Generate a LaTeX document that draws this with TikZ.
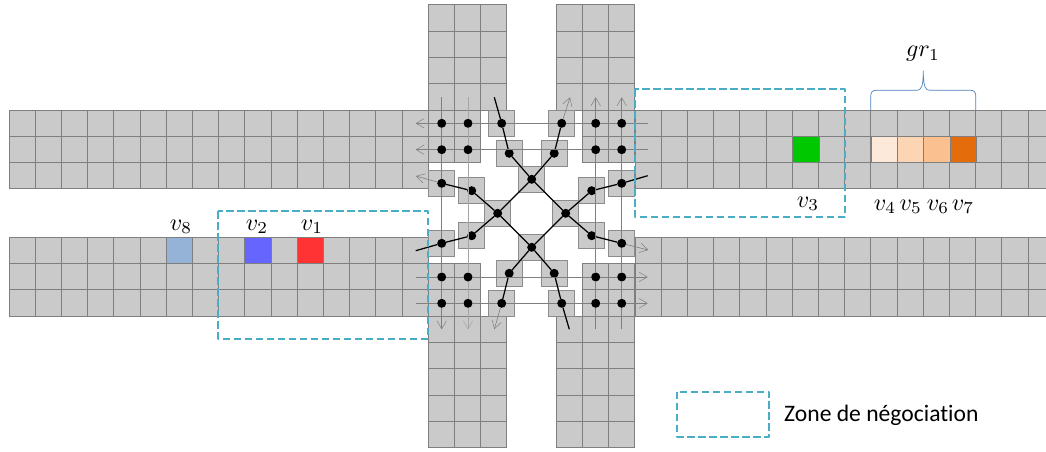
\documentclass[tikz,border=0pt]{standalone}
\usepackage{fontspec}
\setmainfont[Ligatures=NoCommon]{Carlito}
\usetikzlibrary{arrows.meta}
\definecolor{cellfill}{HTML}{CACACA}
\definecolor{cellline}{HTML}{7F7F7F}
\definecolor{zonecol}{HTML}{4BACC6}
\definecolor{bracecol}{HTML}{4F81BD}
\tikzset{
  x=1pt,y=-1pt,
  cellbox/.style={rectangle,draw=cellline!90,fill=cellfill,line width=1pt,minimum width=26.2pt,minimum height=26.3pt,inner sep=0pt,outer sep=0pt},
  gridline/.style={draw=cellline,line width=1pt},
  dotmark/.style={circle,fill=black,minimum size=9pt,inner sep=0pt,outer sep=0pt},
  lane/.style={draw=cellline,line width=.6pt},
  gohead/.style={-{Straight Barb[length=8pt,width=9.5pt,line width=.5pt]}},
  route/.style={draw=black,line width=1.25pt},
  zone/.style={draw=zonecol,line width=2pt,dash pattern=on 7.5pt off 3.5pt,line join=round},
  tag/.style={inner sep=0pt,scale=2.4},
}
% #1,#2 top-left corner, #3 columns, #4 rows: filled once, each rule drawn once
\newcommand{\gridblock}[4]{%
  \fill[cellfill] (#1,#2) rectangle ++({#3*26.2},{#4*26.3});
  \foreach \cc in {0,...,#3}{\draw[gridline] ({#1+\cc*26.2},#2) -- ++(0,{#4*26.3});}
  \foreach \rr in {0,...,#4}{\draw[gridline] (#1,{#2+\rr*26.3}) -- ++({#3*26.2},0);}}
\newcommand{\paintcell}[3]{\draw[gridline,fill=#3] (#1,#2) rectangle ++(26.2,26.3);}
\begin{document}
\begin{tikzpicture}
\useasboundingbox (0,0) rectangle (1046,452);
\begin{scope}
\clip (0,0) rectangle (1046,452);
\gridblock{9}{110}{16}{3}
\gridblock{428.2}{110}{2}{2}
\gridblock{428.2}{4.8}{3}{4}
\gridblock{556}{4.8}{3}{4}
\gridblock{582.2}{110}{2}{2}
\gridblock{635}{110}{16}{3}
\gridblock{9}{237.3}{16}{3}
\gridblock{428.2}{263.6}{2}{2}
\gridblock{428.2}{316.2}{3}{5}
\gridblock{556}{316.2}{3}{5}
\gridblock{582.2}{263.6}{2}{2}
\gridblock{635}{237.3}{16}{3}
\end{scope}
% coloured vehicles
\definecolor{vthree}{HTML}{00C800}
\definecolor{vfour}{HTML}{FDE9D9}
\definecolor{vfive}{HTML}{FCD5B5}
\definecolor{vsix}{HTML}{FAC090}
\definecolor{vseven}{HTML}{E46C0A}
\definecolor{veight}{HTML}{95B3D7}
\definecolor{vtwo}{HTML}{6666FF}
\definecolor{vone}{HTML}{FF3333}
\paintcell{792.8}{136.3}{vthree}
\paintcell{871.4}{136.3}{vfour}
\paintcell{897.6}{136.3}{vfive}
\paintcell{923.8}{136.3}{vsix}
\paintcell{950}{136.3}{vseven}
\paintcell{166.2}{237.3}{veight}
\paintcell{244.8}{237.3}{vtwo}
\paintcell{297.2}{237.3}{vone}
% conflict cells
\foreach \nm/\px/\py in {a1/501.7/123.3,a2/509.2/153.3,a3/441.7/183.3,a4/471.7/190.7,
  b1/561.7/123.3,b2/554.2/153.3,b3/621.7/183.3,b4/591.7/190.7,
  c1/441.7/243.3,c2/471.7/235.7,c3/509.2/273.3,c4/501.7/303.3,
  d1/621.7/243.3,d2/591.7/235.7,d3/554.2/273.3,d4/561.7/303.3,
  pn/531.7/179.3,ps/531.7/247.3,pw/497.7/213.3,pe/565.7/213.3}{
  \node[cellbox] (\nm) at (\px,\py) {};
  \node[dotmark] (\nm d) at (\px,\py) {};
}
% dots of the four corner squares
\foreach \xn/\xv in {A/441.7,B/468,C/595.7,D/621.7}{
  \foreach \yn/\yv in {E/123.3,F/149.7,G/277,H/303.3}{
    \node[dotmark] (g\xn\yn) at (\xv,\yv) {};
  }
}
% free ends
\foreach \nm/\px/\py in {lEl/415.7/123.3,lEr/647.7/123.3,lFl/415.7/149.7,lFr/647.7/149.7,
  lGl/415.7/277,lGr/647.7/277,lHl/415.7/303.3,lHr/647.7/303.3,
  tA/441.7/97.3,tB/468/97.3,tC/595.7/97.3,tD/621.7/97.3,
  uA/441.7/329.3,uB/468/329.3,uC/595.7/329.3,uD/621.7/329.3,
  ra/494.3/97.3,rb/415.7/250.7,rc/647.7/175.7,rd/569.3/329.3,
  ea/648.3/250,eb/570/97.3,ec/494.3/329.3,ed/416/176}{
  \coordinate (\nm) at (\px,\py);
}
% lanes
\draw[lane,gohead] (lEr) -- (gDE) -- (gCE) -- (b1d) -- (a1d) -- (gBE) -- (gAE) -- (lEl);
\draw[lane,gohead] (lFr) -- (gDF) -- (gCF) -- (gBF) -- (gAF) -- (lFl);
\draw[lane,gohead] (lGl) -- (gAG) -- (gBG) -- (gCG) -- (gDG) -- (lGr);
\draw[lane,gohead] (lHl) -- (gAH) -- (gBH) -- (c4d) -- (d4d) -- (gCH) -- (gDH) -- (lHr);
\draw[lane,gohead] (tA) -- (gAE) -- (gAF) -- (a3d) -- (c1d) -- (gAG) -- (gAH) -- (uA);
\draw[lane,draw=cellline!70,gohead] (tB) -- (gBE) -- (gBF) -- (gBG) -- (gBH) -- (uB);
\draw[lane,gohead] (uC) -- (gCH) -- (gCG) -- (gCF) -- (gCE) -- (tC);
\draw[lane,gohead] (uD) -- (gDH) -- (gDG) -- (d1d) -- (b3d) -- (gDF) -- (gDE) -- (tD);
% routes
\draw[lane,gohead] (d1d) -- (ea);
\draw[lane,gohead] (b1d) -- (eb);
\draw[lane,gohead] (c4d) -- (ec);
\draw[lane,gohead] (a3d) -- (ed);
\draw[route] (ra) -- (a1d) -- (a2d) -- (pnd) -- (ped) -- (d2d) -- (d1d);
\draw[route] (rb) -- (c1d) -- (c2d) -- (pwd) -- (pnd) -- (b2d) -- (b1d);
\draw[route] (rc) -- (b3d) -- (b4d) -- (ped) -- (psd) -- (c3d) -- (c4d);
\draw[route] (rd) -- (d4d) -- (d3d) -- (psd) -- (pwd) -- (a4d) -- (a3d);
% negotiation zones
\draw[zone] (218.3,211) rectangle (428.3,338.7);
\draw[zone] (635,89.3) rectangle (845,216.7);
\draw[zone] (677.3,391.7) rectangle (769.3,436.7);
% brace
\draw[bracecol,line width=.7pt] (870.7,110) -- (870.7,97) .. controls (870.7,92.5) and (872,90.3) .. (876,90.3)
  -- (917,90.3) .. controls (921,90.3) and (923.3,87) .. (923.3,70.7)
  .. controls (923.3,87) and (925.6,90.3) .. (929.6,90.3)
  -- (970.5,90.3) .. controls (974.5,90.3) and (975.8,92.5) .. (975.8,97) -- (975.8,110);
% labels
\node[tag] (lgr) at (923,54) {$gr_1$};
\node[tag] (lv3) at (808,204) {$v_3$};
\node[tag] (lv4) at (885,207) {$v_4$};
\node[tag] (lv5) at (910.7,207) {$v_5$};
\node[tag] (lv6) at (938,207) {$v_6$};
\node[tag] (lv7) at (963,207) {$v_7$};
\node[tag] (lv8) at (181,227) {$v_8$};
\node[tag] (lv2) at (257,227) {$v_2$};
\node[tag] (lv1) at (312,227) {$v_1$};
\node[inner sep=0pt,anchor=west,font=\fontsize{23.6}{28}\selectfont] (zl) at (784,415) {Zone de négociation};
\end{tikzpicture}
\end{document}
